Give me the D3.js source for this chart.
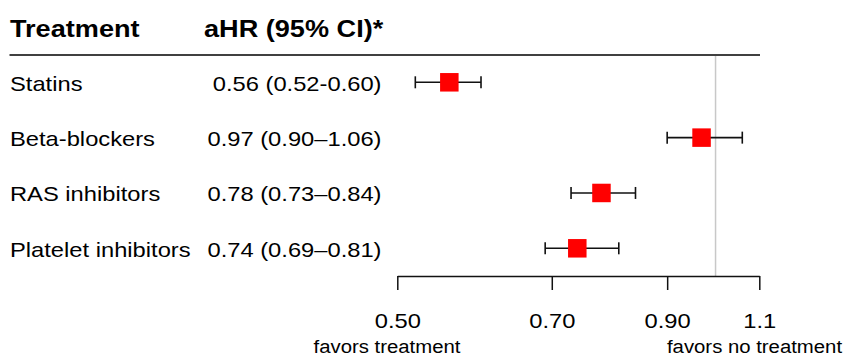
<!DOCTYPE html>
<html>
<head>
<meta charset="utf-8">
<script src="https://cdn.jsdelivr.net/npm/d3@7"></script>
<style>
  html, body { margin: 0; padding: 0; background: #fff; }
  svg { display: block; font-family: "Liberation Sans", Arial, sans-serif; }
</style>
</head>
<body>
<svg id="chart" width="847" height="358"></svg>
<script>
// Forest plot data: adjusted hazard ratios with 95% confidence intervals
const treatments = ["Statins", "Beta-blockers", "RAS inhibitors", "Platelet inhibitors"];
const hr        = [0.56, 0.97, 0.78, 0.74];
const ciLow     = [0.52, 0.90, 0.73, 0.69];
const ciHigh    = [0.60, 1.06, 0.84, 0.81];
const hrLabels  = ["0.56 (0.52-0.60)", "0.97 (0.90\u20131.06)", "0.78 (0.73\u20130.84)", "0.74 (0.69\u20130.81)"];
const tickValues = [0.5, 0.7, 0.9, 1.1];
const tickLabels = ["0.50", "0.70", "0.90", "1.1"];
const refValue = 1.0;

const svg = d3.select("#chart");
const stretch = "scale(1.13,1)";

// Log-scaled hazard-ratio axis
const x = d3.scaleLog().domain([0.5, 1.1]).range([397.3, 759.3]);
const y = d3.scalePoint().domain(treatments).range([82.3, 248.3]);

const headerY = 55;
const axisY = 276;

// Header text
function addText(xp, yp, txt, opts) {
  return svg.append("text")
    .attr("transform", `translate(${xp},${yp}) ${stretch}`)
    .attr("text-anchor", opts.anchor || "start")
    .attr("font-size", opts.size)
    .attr("font-weight", opts.weight || "normal")
    .attr("fill", "#000")
    .text(txt);
}
addText(10, 37, "Treatment", {size: 24, weight: "bold"});
addText(204, 37, "aHR (95% CI)*", {size: 24, weight: "bold"});

// Rule under header
svg.append("line")
  .attr("x1", 9.5).attr("x2", 760).attr("y1", headerY).attr("y2", headerY)
  .attr("stroke", "#000").attr("stroke-width", 1.5);

// Reference line at HR = 1
svg.append("line")
  .attr("x1", x(refValue)).attr("x2", x(refValue))
  .attr("y1", headerY + 1).attr("y2", axisY)
  .attr("stroke", "#c8c8c8").attr("stroke-width", 1.5);

// Row labels and estimates
treatments.forEach((t, i) => {
  addText(10, y(t) + 8.5, t, {size: 21});
  addText(381.5, y(t) + 8.5, hrLabels[i], {size: 21, anchor: "end"});
});

// Confidence intervals
const rows = svg.append("g").selectAll("g")
  .data(treatments.map((t, i) => ({t, hr: hr[i], lo: ciLow[i], hi: ciHigh[i]})))
  .join("g");

rows.append("line")
  .attr("x1", d => x(d.lo)).attr("x2", d => x(d.hi))
  .attr("y1", d => y(d.t)).attr("y2", d => y(d.t))
  .attr("stroke", "#111").attr("stroke-width", 1.6);
["lo", "hi"].forEach(k => {
  rows.append("line")
    .attr("x1", d => x(d[k])).attr("x2", d => x(d[k]))
    .attr("y1", d => y(d.t) - 6).attr("y2", d => y(d.t) + 6)
    .attr("stroke", "#111").attr("stroke-width", 1.6);
});

// Point estimates
const box = 18.5;
rows.append("rect")
  .attr("x", d => x(d.hr) - box / 2)
  .attr("y", d => y(d.t) - box / 2)
  .attr("width", box).attr("height", box)
  .attr("fill", "#ff0000");

// Bottom axis
const axis = d3.axisBottom(x)
  .tickValues(tickValues)
  .tickFormat((d, i) => tickLabels[i])
  .tickSize(14)
  .tickSizeOuter(0)
  .tickPadding(23);

const gAxis = svg.append("g")
  .attr("transform", `translate(0,${axisY})`)
  .call(axis);
gAxis.select(".domain").attr("stroke", "#111").attr("stroke-width", 1.5);
gAxis.selectAll(".tick line").attr("stroke", "#111").attr("stroke-width", 1.5);
gAxis.selectAll(".tick text")
  .attr("font-size", 21)
  .attr("font-family", "\"Liberation Sans\", Arial, sans-serif")
  .attr("fill", "#000")
  .attr("transform", stretch);

// Direction annotations
addText(387, 353, "favors treatment", {size: 18, anchor: "middle"});
addText(754.5, 353, "favors no treatment", {size: 18, anchor: "middle"});
</script>
</body>
</html>
